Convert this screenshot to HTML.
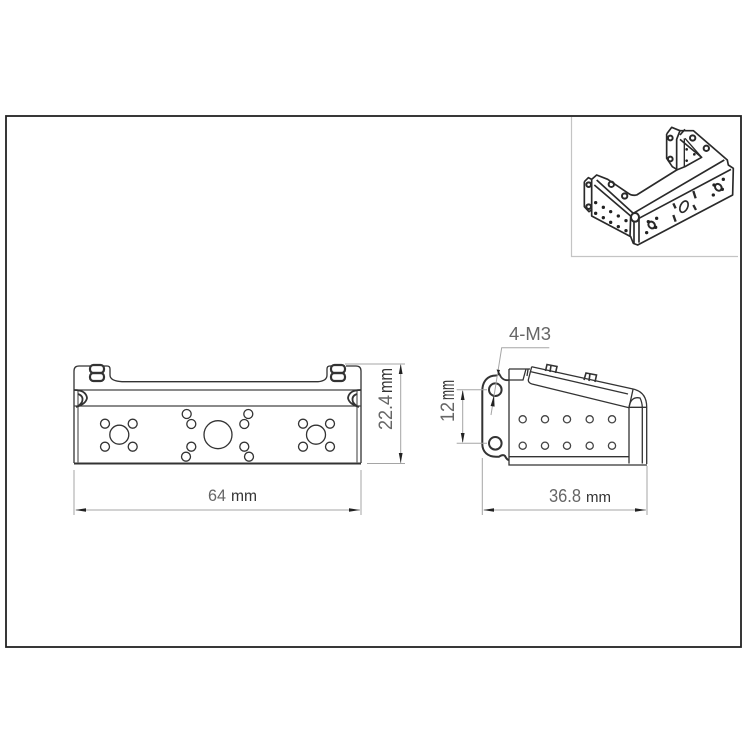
<!DOCTYPE html>
<html><head><meta charset="utf-8"><style>
html,body{margin:0;padding:0;background:#fff;width:750px;height:750px;overflow:hidden}
svg{display:block}
.t{font-family:"Liberation Sans",sans-serif;font-weight:normal;fill:#666}
.m{font-family:"Liberation Sans",sans-serif;fill:#333}
</style></head><body>
<svg width="750" height="750" viewBox="0 0 750 750" xmlns="http://www.w3.org/2000/svg">
<rect x="6" y="116" width="735" height="531" fill="none" stroke="#222" stroke-width="1.8"/>
<path d="M571.5 117V256.5H738" fill="none" stroke="#c4c4c4" stroke-width="1.2"/>

<!-- front view -->
<g fill="none" stroke="#333" stroke-width="1.3">
<path d="M74 463V371Q74 366 79 366H90M104 366H107Q110 366 110 369V375Q110 381 122 381.7H318Q327 381 327 375V369Q327 366 330 366H332M346 366H356Q361 366 361 371V463"/>
<path d="M74 463.5H361" stroke-width="2"/>
<path d="M78 390V463M357 390V463" stroke="#666"/>
<path d="M74 390H361M74 406H361" stroke="#444"/>
<path d="M74 390Q86 390 87 398Q86 404 76 407M78 394Q84 396 82 402Q80 405 78 406" stroke-width="1.8"/>
<path d="M361 390Q349 390 348 398Q349 404 359 407M357 394Q351 396 353 402Q355 405 357 406" stroke-width="1.8"/>
<rect x="90" y="365" width="14" height="8" rx="3.5" stroke-width="2.2"/><rect x="90" y="373" width="14" height="8" rx="3.5" stroke-width="2.2"/>
<rect x="331" y="365" width="14" height="8" rx="3.5" stroke-width="2.2"/><rect x="331" y="373" width="14" height="8" rx="3.5" stroke-width="2.2"/>
<circle cx="218" cy="434.7" r="14"/>
<circle cx="119.3" cy="434.7" r="9.5"/><circle cx="316" cy="434.7" r="9.5"/>
<circle cx="105" cy="423.7" r="4.5"/><circle cx="132.7" cy="423.7" r="4.5"/><circle cx="105" cy="446.7" r="4.5"/><circle cx="132.7" cy="446.7" r="4.5"/>
<circle cx="303" cy="423.7" r="4.5"/><circle cx="330" cy="423.7" r="4.5"/><circle cx="303" cy="446.7" r="4.5"/><circle cx="330" cy="446.7" r="4.5"/>
<circle cx="186.7" cy="414" r="4.5"/><circle cx="191.3" cy="424" r="4.5"/><circle cx="191.3" cy="446.7" r="4.5"/><circle cx="186" cy="456.7" r="4.5"/>
<circle cx="248.3" cy="414" r="4.5"/><circle cx="244.3" cy="424" r="4.5"/><circle cx="244.3" cy="446.7" r="4.5"/><circle cx="249" cy="456.7" r="4.5"/>
</g>

<!-- side view -->
<g fill="none" stroke="#333" stroke-width="1.3">
<path d="M497 375.5C488 375 482.3 381 482.3 391V444C482.3 452 488 456.7 496 456.7H499Q503 454 505 456Q507 460 509 460" stroke-width="2"/>
<path d="M497 375.5L499 373.5L501 377Q504 381 509 380" stroke-width="1.8"/>
<path d="M509 369V465H647"/>
<path d="M509 369H530M526 369L523 380H509M528 369.5L527 376"/>
<path d="M509 456.7H629"/>
<path d="M531.7 366.7L633 389Q646.7 392 646.7 407V464"/>
<path d="M531 371.7L628 394"/>
<path d="M531.7 366.7L528.3 380Q528.3 383 532 384L629 407.7L633 389.5"/>
<path d="M629 407.7V463.5M642.3 407V463.5M629 407.3H647M629 407Q631 396 640 398Q642 402 642.3 407"/>
<circle cx="495.3" cy="389.7" r="6.3" stroke-width="2"/><circle cx="495.3" cy="443.3" r="6.3" stroke-width="2"/>
<path d="M545.5 371L547 364.5L557 366.5L555.5 373M551 365.5L550 372" stroke-width="1.6"/>
<path d="M584 380L586 373L596.5 375L595 382M590 373.5L589 381" stroke-width="1.6"/>
<g stroke="#444">
<circle cx="522.7" cy="419.3" r="3.6"/><circle cx="545" cy="419.3" r="3.6"/><circle cx="567" cy="419.3" r="3.6"/><circle cx="589.7" cy="419.3" r="3.6"/><circle cx="612" cy="419.3" r="3.6"/>
<circle cx="522.7" cy="445.7" r="3.6"/><circle cx="545" cy="445.7" r="3.6"/><circle cx="567" cy="445.7" r="3.6"/><circle cx="589.7" cy="445.7" r="3.6"/><circle cx="612" cy="445.7" r="3.6"/>
</g>
</g>

<!-- dimension lines -->
<g fill="none" stroke="#a5a5a5" stroke-width="1">
<path d="M345 364H405M367 463.5H405M400.7 365V463"/>
<path d="M74 470V515M361 470V515M76 510H360"/>
<path d="M456.7 389.7H487M456.7 443.3H487M462.7 391V442"/>
<path d="M482.3 458V515M647 466V515M484 510H646"/>
<path d="M549.3 347.7H501.7L491 415"/>
</g>
<g fill="#222">
<path d="M400.7 364L398.8 374H402.6Z"/><path d="M400.7 463L398.8 453H402.6Z"/>
<path d="M75 510L86 508.3V511.7Z"/><path d="M360 510L349 508.3V511.7Z"/>
<path d="M462.7 390L460.8 400H464.6Z"/><path d="M462.7 443L460.8 433H464.6Z"/>
<path d="M483 510L494 508.3V511.7Z"/><path d="M646 510L635 508.3V511.7Z"/>
<path d="M494 395L490.6 406L494.6 406.6Z"/><path d="M498.5 374L496.5 369.5L500 370Z"/>
</g>

<!-- labels -->
<text class="t" x="208" y="501" font-size="17" textLength="18" lengthAdjust="spacingAndGlyphs">64</text>
<text class="m" x="231" y="501" font-size="16" textLength="26" lengthAdjust="spacingAndGlyphs">mm</text>
<text class="t" transform="translate(392,430) rotate(-90)" font-size="19" textLength="35" lengthAdjust="spacingAndGlyphs">22.4</text>
<text class="m" transform="translate(392,393) rotate(-90)" font-size="18" textLength="25" lengthAdjust="spacingAndGlyphs">mm</text>
<text class="t" x="509" y="340" font-size="18" textLength="42" lengthAdjust="spacingAndGlyphs">4-M3</text>
<text class="t" transform="translate(454,422) rotate(-90)" font-size="19" textLength="20" lengthAdjust="spacingAndGlyphs">12</text>
<text class="m" transform="translate(454,400) rotate(-90)" font-size="20" textLength="20" lengthAdjust="spacingAndGlyphs">mm</text>
<text class="t" x="549" y="502" font-size="18" textLength="32" lengthAdjust="spacingAndGlyphs">36.8</text>
<text class="m" x="586" y="502" font-size="15" textLength="25" lengthAdjust="spacingAndGlyphs">mm</text>

<!-- isometric -->
<g transform="translate(565,110) scale(.3333)" fill="none" stroke="#2a2a2a" stroke-width="5" stroke-linejoin="round">
<path d="M58 215L70 203L80 208M58 215V290L72 305L82 298"/>
<path d="M80 208L95 195L128 208L190 250Q200 258 215 255L335 180V88L345 62L385 62L487 150L490 165L505 175L503 255L218 405L205 400L197 380L80 318V208"/>
<path d="M305 72L320 52L345 62M305 72V145L322 170L335 178"/>
<path d="M345 75L360 58M345 88L410 142L360 170L335 180"/>
<path d="M360 85L410 142M358 85V170" stroke-width="4"/>
<path d="M205 310L478 150M222 325L498 178M207 335V400M222 325V398"/>
<path d="M95 210L205 310M88 225L197 318M197 318L195 380"/>
<ellipse cx="210" cy="322" rx="12" ry="13" stroke-width="6"/>
<circle cx="71" cy="224" r="7" stroke-width="6"/><circle cx="71" cy="290" r="7" stroke-width="6"/>
<circle cx="139" cy="223" r="8" stroke-width="6"/><circle cx="179" cy="258" r="8" stroke-width="6"/>
<circle cx="316" cy="84" r="7" stroke-width="6"/><circle cx="316" cy="147" r="7" stroke-width="6"/>
<circle cx="383" cy="84" r="8" stroke-width="6"/><circle cx="424" cy="115" r="8" stroke-width="6"/>
<ellipse cx="357" cy="290" rx="11" ry="18" transform="rotate(25 357 290)"/>
<path d="M385 243L392 265M325 280L332 295M385 285L393 300M325 315L332 335" stroke-width="7"/>
<ellipse cx="260" cy="345" rx="9" ry="11" transform="rotate(-40 260 345)" stroke-width="6"/>
<ellipse cx="460" cy="232" rx="9" ry="11" transform="rotate(-40 460 232)" stroke-width="6"/>
<g fill="#222" stroke="none">
<circle cx="250" cy="335" r="5"/><circle cx="275" cy="325" r="5"/><circle cx="245" cy="368" r="5"/><circle cx="272" cy="352" r="5"/>
<circle cx="447" cy="225" r="5"/><circle cx="475" cy="208" r="5"/><circle cx="445" cy="255" r="5"/><circle cx="472" cy="238" r="5"/>
<circle cx="92" cy="278" r="5"/><circle cx="115" cy="292" r="5"/><circle cx="137" cy="305" r="5"/><circle cx="160" cy="318" r="5"/><circle cx="183" cy="332" r="5"/>
<circle cx="92" cy="310" r="5"/><circle cx="115" cy="323" r="5"/><circle cx="137" cy="337" r="5"/><circle cx="160" cy="350" r="5"/><circle cx="183" cy="362" r="5"/>
<circle cx="365" cy="118" r="4"/><circle cx="388" cy="133" r="4"/><circle cx="365" cy="152" r="4"/>
</g>
</g>
</svg>
</body></html>
